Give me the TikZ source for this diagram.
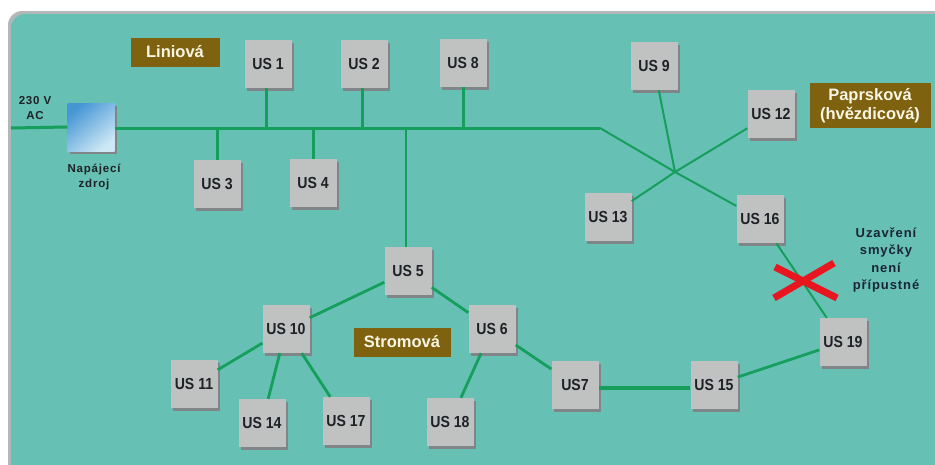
\documentclass[tikz,border=0pt]{standalone}
\usepackage{fontspec}
\setmainfont{Liberation Sans}
\newfontfamily\widefont[LetterSpace=7]{Liberation Sans}
\newfontfamily\narrowfont[FakeStretch=0.88]{Liberation Sans}
\usetikzlibrary{shadows}

\definecolor{panel}{RGB}{102,192,180}
\definecolor{rim}{RGB}{178,184,184}
\definecolor{boxgray}{RGB}{192,193,193}
\definecolor{boxshadow}{RGB}{128,134,136}
\definecolor{boxtext}{RGB}{30,34,38}
\definecolor{wire}{RGB}{22,158,92}
\definecolor{tag}{RGB}{126,98,16}
\definecolor{tagtext}{RGB}{250,246,228}
\definecolor{note}{RGB}{26,36,52}
\definecolor{cross}{RGB}{232,22,30}
\definecolor{psudark}{RGB}{70,150,214}
\definecolor{psulight}{RGB}{205,232,244}

\tikzset{
  unitbox/.style={fill=boxgray, minimum width=47pt, minimum height=48pt,
    inner sep=0pt, text=boxtext, font=\narrowfont\bfseries\fontsize{16}{18}\selectfont,
    drop shadow={shadow xshift=2.5pt, shadow yshift=-2.5pt, fill=boxshadow, opacity=1}},
  psubox/.style={minimum width=47pt, minimum height=48pt, inner sep=0pt,
    top color=psudark, bottom color=psulight, shading angle=40,
    drop shadow={shadow xshift=2.5pt, shadow yshift=-2.5pt, fill=boxshadow, opacity=1}},
  tagbox/.style={fill=tag, text=tagtext, inner sep=0pt, align=center,
    font=\bfseries\fontsize{16.5}{19}\selectfont},
  small/.style={text=boxtext, align=center, font=\widefont\bfseries\fontsize{11.5}{14.5}\selectfont},
  notetext/.style={text=note, align=center, font=\widefont\bfseries\fontsize{13}{17.5}\selectfont},
  bus/.style={draw=wire, line width=3pt},
  ray/.style={draw=wire, line width=2pt},
  branch/.style={draw=wire, line width=2.8pt},
  trunk/.style={draw=wire, line width=4pt},
}

\begin{document}
\begin{tikzpicture}[x=1pt, y=-1pt]
\useasboundingbox (0,0) rectangle (935,464);

% framed panel
\begin{scope}
  \clip (0,0) rectangle (935,464);
  \fill[white] (0,0) rectangle (935,464);
  \fill[rim, rounded corners=14pt] (8,11) rectangle (980,500);
  \fill[panel, rounded corners=14pt] (11,14) rectangle (980,500);
\end{scope}

% power supply and bus nodes
\node[psubox] (psu) at (91,127) {};
\node[small] (mains) at (35,108) {230 V\\AC};
\node[small] (psulabel) at (94,177) {Napájecí\\zdroj};

\node[unitbox] (us1) at (268,64) {US 1};
\node[unitbox] (us2) at (364,64) {US 2};
\node[unitbox] (us8) at (463,63) {US 8};
\node[unitbox] (us3) at (217,184) {US 3};
\node[unitbox] (us4) at (313,183) {US 4};

% tree
\node[unitbox] (us5)  at (408,271) {US 5};
\node[unitbox] (us10) at (286,329) {US 10};
\node[unitbox] (us6)  at (492,329) {US 6};
\node[unitbox] (us11) at (194,384) {US 11};
\node[unitbox] (us14) at (262,423) {US 14};
\node[unitbox] (us17) at (346,421) {US 17};
\node[unitbox] (us18) at (450,422) {US 18};
\node[unitbox] (us7)  at (575,385) {US7};
\node[unitbox] (us15) at (714,385) {US 15};
\node[unitbox] (us19) at (843,342) {US 19};

% star
\node[unitbox] (us9)  at (654,66)  {US 9};
\node[unitbox] (us12) at (771,114) {US 12};
\node[unitbox] (us13) at (608,217) {US 13};
\node[unitbox] (us16) at (760,219) {US 16};

% topology tags
\node[tagbox, minimum width=89pt, minimum height=29pt] (tlin) at (175,52) {Liniová};
\node[tagbox, minimum width=97pt, minimum height=29pt] (ttree) at (402,342) {Stromová};
\node[tagbox, minimum width=121pt, minimum height=45pt] (tstar) at (870,105.5) {Paprsková\\(hvězdicová)};

\node[notetext] (loopnote) at (886,260) {Uzavření\\smyčky\\není\\přípustné};

% junction points
\coordinate (acin) at (11,128);
\coordinate (bend) at (600,128);
\coordinate (hub) at (675,172);

% linear bus
\draw[bus] (acin) -- (psu.west);
\draw[bus] (psu.east |- bend) -- (bend);
\draw[bus] ([xshift=-2pt]us1.south) -- ([xshift=-2pt]us1.south |- bend);
\draw[bus] ([xshift=-2pt]us2.south) -- ([xshift=-2pt]us2.south |- bend);
\draw[bus] (us8.south) -- (us8.south |- bend);
\draw[bus] (us3.north) -- (us3.north |- bend);
\draw[bus] (us4.north) -- (us4.north |- bend);
\draw[ray] ([xshift=-2pt]us5.north) -- ([xshift=-2pt]us5.north |- bend);

% star wiring
\draw[ray] (bend) -- (hub) -- (us16);
\draw[ray] (us9) -- (hub);
\draw[ray] (us12) -- (hub);
\draw[ray] (us13) -- (hub);

% tree wiring
\draw[branch] (us5) -- (us10);
\draw[branch] (us5) -- (us6);
\draw[branch] (us10) -- (us11);
\draw[branch] (us10) -- (us14);
\draw[branch] (us10) -- (us17);
\draw[branch] (us6) -- (us18);
\draw[branch] (us6) -- (us7);
\draw[trunk] ([yshift=-3pt]us7.east) -- ([yshift=-3pt]us15.west);
\draw[branch] (us15) -- (us19);
\draw[ray] (us16) -- (us19);

% forbidden loop mark
\coordinate (xmark) at (805,281);
\draw[cross, line width=7pt] ([shift={(-31,17)}]xmark) -- ([shift={(29,-18)}]xmark);
\draw[cross, line width=7pt] ([shift={(-30,-14)}]xmark) -- ([shift={(32,17)}]xmark);
\end{tikzpicture}
\end{document}
